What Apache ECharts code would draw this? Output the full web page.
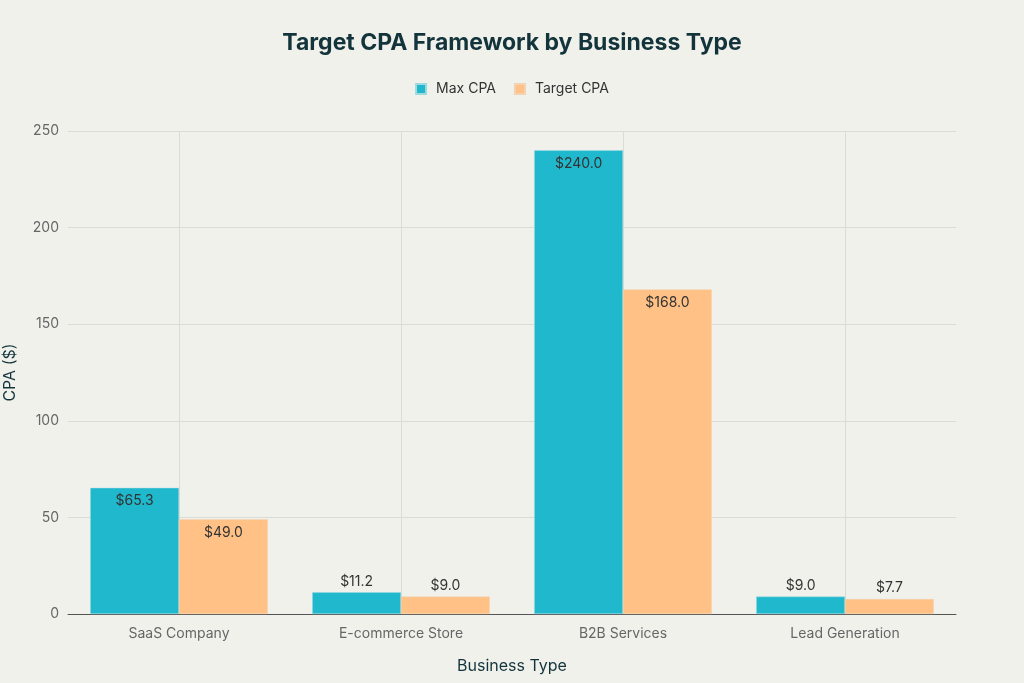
<!DOCTYPE html>
<html><head><meta charset="utf-8">
<script src="https://cdn.jsdelivr.net/npm/echarts@6/dist/echarts.min.js"></script>
<style>html,body{margin:0;padding:0;background:#F1F1EC;}#c{width:1024px;height:683px;}</style>
</head><body><div id="c"></div>
<script>
const categories = ['SaaS Company', 'E-commerce Store', 'B2B Services', 'Lead Generation'];
const maxCPA = [65.3, 11.2, 240.0, 9.0];
const targetCPA = [49.0, 9.0, 168.0, 7.7];
const seriesNames = ['Max CPA', 'Target CPA'];
const yTicks = [0, 50, 100, 150, 200, 250];

const font = 'Inter, "Open Sans", sans-serif';
function mk(vals) {
  return vals.map(v => ({
    value: v,
    label: { position: v > 30 ? 'insideTop' : 'top', distance: v > 30 ? 6 : 4 }
  }));
}
const chart = echarts.init(document.getElementById('c'));
chart.setOption({
  backgroundColor: '#F1F1EC',
  textStyle: { fontFamily: font },
  title: {
    text: 'Target CPA Framework by Business Type', left: 'center', top: 27,
    textStyle: { fontFamily: font, fontSize: 23, fontWeight: 'bold', color: '#13343B' }
  },
  legend: {
    top: 77, left: 'center', itemWidth: 10, itemHeight: 10, itemGap: 18,
    icon: 'rect',
    textStyle: { fontFamily: font, fontSize: 14, color: '#333', padding: [0, 0, 0, 5] },
    data: seriesNames
  },
  grid: { left: 68, right: 68, top: 131, bottom: 69, containLabel: false, outerBoundsMode: 'none' },
  xAxis: {
    type: 'category', data: categories,
    name: 'Business Type', nameLocation: 'middle', nameGap: 44,
    nameTextStyle: { fontFamily: font, fontSize: 16, color: '#13343B' },
    axisLine: { lineStyle: { color: '#555', width: 1 } },
    axisTick: { show: false },
    axisLabel: { fontFamily: font, fontSize: 14, color: '#666', margin: 13 },
    splitLine: { show: true, alignWithLabel: true, lineStyle: { color: '#DCDCD6', width: 1 } }
  },
  yAxis: {
    type: 'value', min: 0, max: 250, interval: 50,
    name: 'CPA ($)', nameLocation: 'middle', nameGap: 50,
    nameTextStyle: { fontFamily: font, fontSize: 16, color: '#13343B' },
    axisLine: { show: false }, axisTick: { show: false },
    axisLabel: { fontFamily: font, fontSize: 14, color: '#666', margin: 9,
      formatter: v => yTicks.includes(v) ? String(v) : '' },
    splitLine: { lineStyle: { color: '#DCDCD6', width: 1 } }
  },
  series: [
    { name: seriesNames[0], type: 'bar', data: mk(maxCPA), barGap: '0%', barCategoryGap: '20%',
      itemStyle: { color: '#1FB8CD', borderColor: '#9FD9E0', borderWidth: 0.5 },
      label: { show: true, fontFamily: font, fontSize: 14, color: '#333',
        formatter: p => '$' + p.value.toFixed(1) } },
    { name: seriesNames[1], type: 'bar', data: mk(targetCPA),
      itemStyle: { color: '#FFC185', borderColor: '#F2D2B0', borderWidth: 0.5 },
      label: { show: true, fontFamily: font, fontSize: 14, color: '#333',
        formatter: p => '$' + p.value.toFixed(1) } }
  ]
});
</script></body></html>
